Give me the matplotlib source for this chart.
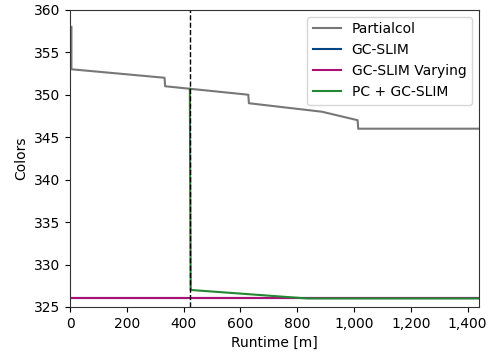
import matplotlib
matplotlib.use("Agg")
import matplotlib.pyplot as plt
from matplotlib.ticker import FuncFormatter

# runtime in minutes vs. number of colors found
pc_t = [5, 5, 333, 335, 628, 630, 887, 1013, 1015, 1440]
pc_c = [358, 353, 352, 351, 350, 349, 348, 347, 346, 346]

gc_t = [0, 1440]
gc_c = [326, 326]

gcv_t = [0, 1440]
gcv_c = [326, 326]

pcgc_t = [422, 425, 835, 1440]
pcgc_c = [350.7, 327, 326, 326]

switch_t = 422

fig = plt.figure(figsize=(4.92, 3.52), dpi=100)
ax = fig.add_axes([0.1423, 0.128, 0.831, 0.844])

ax.plot(pc_t, pc_c, color="#777777", lw=1.5, label="Partialcol")
ax.plot(gc_t, gc_c, color="#004488", lw=1.5, label="GC-SLIM")
ax.plot(gcv_t, gcv_c, color="#AA1177", lw=1.5, label="GC-SLIM Varying")
ax.plot(pcgc_t, pcgc_c, color="#228833", lw=1.5, label="PC + GC-SLIM")
ax.axvline(switch_t, color="black", ls="--", lw=1.0)

ax.set_xlim(0, 1440)
ax.set_ylim(325, 360)
ax.set_xticks(range(0, 1401, 200))
ax.xaxis.set_major_formatter(FuncFormatter(lambda v, p: f"{int(v):,}"))
ax.set_xlabel("Runtime [m]")
ax.set_ylabel("Colors")
for s in ax.spines.values():
    s.set_color("#333333")

ax.legend(loc="upper right")

fig.savefig("out.png", dpi=100)
